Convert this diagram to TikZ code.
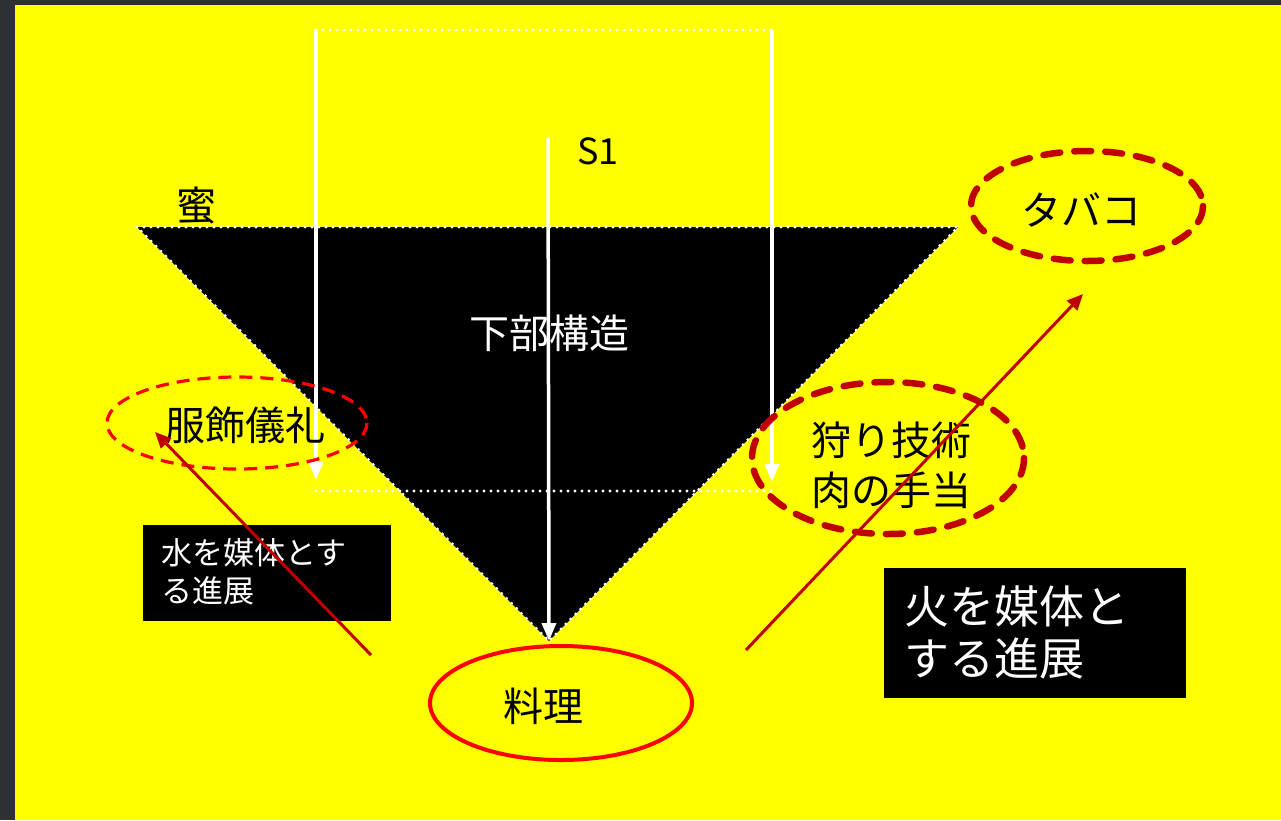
\documentclass[tikz,border=0pt]{standalone}
\usepackage{fontspec}
\setmainfont{Noto Sans CJK JP}
\usetikzlibrary{arrows.meta,shapes.geometric}
\definecolor{frame}{HTML}{2E3033}
\definecolor{bg}{HTML}{FFFF00}
\definecolor{dred}{HTML}{C00000}
\definecolor{bred}{HTML}{FF0000}
\tikzset{
  lbl/.style={font=\fontsize{40}{48}\selectfont, text=black, inner sep=0pt},
  wlbl/.style={font=\fontsize{40}{48}\selectfont, text=white, inner sep=0pt},
  thickdash/.style={draw=dred, line width=6.5pt, dash pattern=on 17pt off 14pt, line cap=round},
  thindash/.style={draw=bred, line width=3.2pt, dash pattern=on 13pt off 8pt},
  wline/.style={draw=white, line width=3.5pt},
  wdot/.style={draw=white, line width=3.2pt, dash pattern=on 0pt off 7pt, line cap=round},
  warrow/.style={wline, -{Triangle[width=14pt,length=18pt]}},
  rarrow/.style={draw=dred, line width=3pt, -{Triangle[width=14pt,length=16pt]}}
}
\begin{document}
\begin{tikzpicture}[x=1pt,y=-1pt]
\useasboundingbox (0,0) rectangle (1281,820);
\fill[frame] (0,0) rectangle (1281,820);
\fill[bg] (15,5) rectangle (1281,820);

% triangle
\coordinate (tl) at (137,227);
\coordinate (tr) at (958,227);
\coordinate (ap) at (549,641);
\fill[black] (tl) -- (tr) -- (ap) -- cycle;
\draw[wdot] (tl) -- (tr) -- (ap) -- cycle;

\node[lbl] (mitsu) at (196,205) {蜜};
\node[wlbl] (kabu) at (549,333) {下部構造};

% white frame lines
\coordinate (a1) at (316,30);
\coordinate (a2) at (772,30);
\coordinate (b1) at (316,480);
\coordinate (b2) at (772,482);
\coordinate (c1) at (316,491);
\coordinate (c2) at (772,491);
\draw[wdot] (a1) -- (a2);
\draw[wdot] (c1) -- (c2);
\draw[warrow] (a1) -- (b1);
\draw[warrow] (a2) -- (b2);

\coordinate (s0) at (548,137);
\draw[warrow] (s0) -- (ap);
\node[font=\fontsize{36}{40}\selectfont, inner sep=0pt] (s1) at (598,151) {S1};

% ellipses
\node[lbl] (fuku) at (245,425) {服飾儀礼};
\draw[thindash] (237,423) ellipse [x radius=130, y radius=46];

\node[lbl] (tabako) at (1081,210) {タバコ};
\draw[thickdash] (1087,206) ellipse [x radius=116, y radius=55];

\node[lbl, align=center, font=\fontsize{40}{50}\selectfont] (kari) at (891,465) {狩り技術\\肉の手当};
\draw[thickdash] (888,458) ellipse [x radius=136, y radius=76];

\node[lbl] (ryori) at (543,706) {料理};
\draw[bred, line width=4pt] (561,703) ellipse [x radius=131, y radius=57];

% boxes
\node[fill=black, minimum width=248pt, minimum height=96pt, inner sep=0pt] (mizubox) at (267,573) {};
\node[text=white, align=left, anchor=north west, inner sep=0pt, font=\fontsize{31}{38}\selectfont] (mizu) at (161,538) {水を媒体とす\\る進展};

\node[fill=black, minimum width=302pt, minimum height=130pt, inner sep=0pt] (hibox) at (1035,633) {};
\node[text=white, align=left, anchor=north west, inner sep=0pt, font=\fontsize{45}{52}\selectfont] (hi) at (904,585) {火を媒体と\\する進展};

% red arrows
\coordinate (m0) at (371,655);
\coordinate (m1) at (155,432);
\coordinate (h0) at (746,650);
\coordinate (h1) at (1083,294);
\draw[rarrow] (m0) -- (m1);
\draw[rarrow] (h0) -- (h1);
\end{tikzpicture}
\end{document}
